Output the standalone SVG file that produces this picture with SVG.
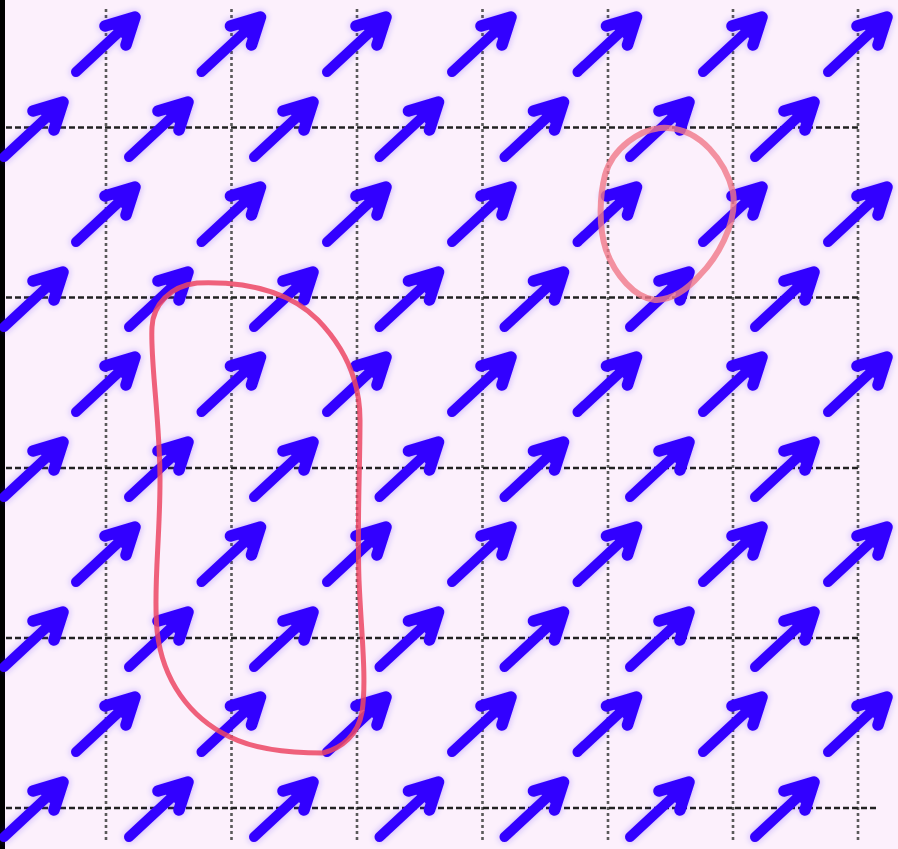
<svg xmlns="http://www.w3.org/2000/svg" xmlns:xlink="http://www.w3.org/1999/xlink" width="898" height="849" viewBox="0 0 898 849">
<defs>
<style>
.vg{stroke:#5a5a5a;stroke-width:2.6;stroke-dasharray:3 3;fill:none}
.hg{stroke:#222;stroke-width:2.4;stroke-dasharray:6 3;fill:none}
.ar{stroke:#3300ff;fill:none;stroke-linecap:round;stroke-linejoin:round}
.ah{fill:#3300ff;stroke:#3300ff;stroke-width:4;stroke-linejoin:round}
.loop{fill:none;stroke-linecap:round;stroke-linejoin:round}
</style>
<g id="arr">
<path class="ar" stroke-width="10" d="M -64 60 L -8 8"/>
<path class="ar" stroke-width="11.5" d="M -35 14 L -5 5 L -14 33"/>
<path class="ah" d="M -3 3 L -30 12 L -12 29 Z"/>
</g>
<filter id="glow" filterUnits="userSpaceOnUse" x="0" y="0" width="898" height="849">
<feGaussianBlur in="SourceGraphic" stdDeviation="3.5" result="b"/>
<feComponentTransfer in="b" result="c"><feFuncA type="linear" slope="0.3"/></feComponentTransfer>
<feGaussianBlur in="SourceGraphic" stdDeviation="0.7" result="s"/>
<feMerge><feMergeNode in="c"/><feMergeNode in="s"/></feMerge>
</filter>
</defs>
<rect x="0" y="0" width="898" height="849" fill="#fcf0fc"/>
<rect x="0" y="0" width="5" height="849" fill="#000"/>
<g id="grid">
<path class="vg" d="M106 9V842M231.5 9V842M357 9V842M482.5 9V842M608 9V842M733 9V842M858 9V842"/>
<path class="hg" d="M6 127.5H858M6 297.5H858M6 468H858M6 638H858M6 808H877"/>
</g>
<g id="arrows" filter="url(#glow)">
<use xlink:href="#arr" x="140" y="12"/><use xlink:href="#arr" x="265.5" y="12"/><use xlink:href="#arr" x="391" y="12"/><use xlink:href="#arr" x="516" y="12"/><use xlink:href="#arr" x="641.5" y="12"/><use xlink:href="#arr" x="767" y="12"/><use xlink:href="#arr" x="892" y="12"/>
<use xlink:href="#arr" x="140" y="182"/><use xlink:href="#arr" x="265.5" y="182"/><use xlink:href="#arr" x="391" y="182"/><use xlink:href="#arr" x="516" y="182"/><use xlink:href="#arr" x="641.5" y="182"/><use xlink:href="#arr" x="767" y="182"/><use xlink:href="#arr" x="892" y="182"/>
<use xlink:href="#arr" x="140" y="352"/><use xlink:href="#arr" x="265.5" y="352"/><use xlink:href="#arr" x="391" y="352"/><use xlink:href="#arr" x="516" y="352"/><use xlink:href="#arr" x="641.5" y="352"/><use xlink:href="#arr" x="767" y="352"/><use xlink:href="#arr" x="892" y="352"/>
<use xlink:href="#arr" x="140" y="522"/><use xlink:href="#arr" x="265.5" y="522"/><use xlink:href="#arr" x="391" y="522"/><use xlink:href="#arr" x="516" y="522"/><use xlink:href="#arr" x="641.5" y="522"/><use xlink:href="#arr" x="767" y="522"/><use xlink:href="#arr" x="892" y="522"/>
<use xlink:href="#arr" x="140" y="692"/><use xlink:href="#arr" x="265.5" y="692"/><use xlink:href="#arr" x="391" y="692"/><use xlink:href="#arr" x="516" y="692"/><use xlink:href="#arr" x="641.5" y="692"/><use xlink:href="#arr" x="767" y="692"/><use xlink:href="#arr" x="892" y="692"/>
<use xlink:href="#arr" x="68" y="97"/><use xlink:href="#arr" x="193" y="97"/><use xlink:href="#arr" x="318" y="97"/><use xlink:href="#arr" x="443.5" y="97"/><use xlink:href="#arr" x="568.5" y="97"/><use xlink:href="#arr" x="694" y="97"/><use xlink:href="#arr" x="819" y="97"/>
<use xlink:href="#arr" x="68" y="267"/><use xlink:href="#arr" x="193" y="267"/><use xlink:href="#arr" x="318" y="267"/><use xlink:href="#arr" x="443.5" y="267"/><use xlink:href="#arr" x="568.5" y="267"/><use xlink:href="#arr" x="694" y="267"/><use xlink:href="#arr" x="819" y="267"/>
<use xlink:href="#arr" x="68" y="437"/><use xlink:href="#arr" x="193" y="437"/><use xlink:href="#arr" x="318" y="437"/><use xlink:href="#arr" x="443.5" y="437"/><use xlink:href="#arr" x="568.5" y="437"/><use xlink:href="#arr" x="694" y="437"/><use xlink:href="#arr" x="819" y="437"/>
<use xlink:href="#arr" x="68" y="607"/><use xlink:href="#arr" x="193" y="607"/><use xlink:href="#arr" x="318" y="607"/><use xlink:href="#arr" x="443.5" y="607"/><use xlink:href="#arr" x="568.5" y="607"/><use xlink:href="#arr" x="694" y="607"/><use xlink:href="#arr" x="819" y="607"/>
<use xlink:href="#arr" x="68" y="777"/><use xlink:href="#arr" x="193" y="777"/><use xlink:href="#arr" x="318" y="777"/><use xlink:href="#arr" x="443.5" y="777"/><use xlink:href="#arr" x="568.5" y="777"/><use xlink:href="#arr" x="694" y="777"/><use xlink:href="#arr" x="819" y="777"/>
</g>
<g id="loop-large">
<path class="loop" stroke="#ec4664" stroke-opacity="0.85" stroke-width="5" d="M 197 283 C 250 281, 290 292, 318 320 C 345 348, 360 380, 360 420 C 360 470, 357 520, 359 580 C 361 630, 367 680, 362 712 C 358 735, 342 748, 323 753 C 300 753, 260 752, 230 737 C 190 718, 162 680, 157 630 C 153 590, 160 540, 160 480 C 160 420, 150 360, 152 327 C 153 305, 170 286, 197 283 Z"/>
</g>
<g id="loop-small">
<path class="loop" stroke="#f07888" stroke-opacity="0.8" stroke-width="6" d="M 668 128 C 700 130, 725 160, 733 192 C 738 225, 715 260, 700 275 C 685 292, 670 300, 655 300 C 635 298, 615 275, 606 250 C 598 225, 600 195, 605 175 C 612 150, 640 126, 668 128 Z"/>
</g>
</svg>
